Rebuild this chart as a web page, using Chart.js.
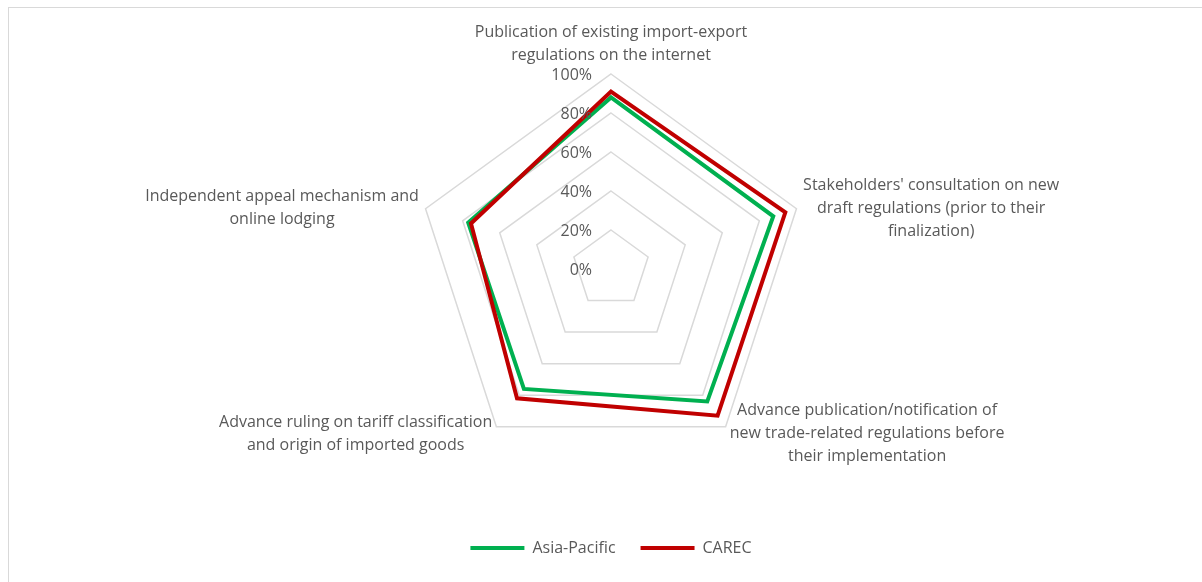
<!DOCTYPE html>
<html>
<head>
<meta charset="utf-8">
<title>Transparency radar</title>
<script src="https://cdn.jsdelivr.net/npm/chart.js@4/dist/chart.umd.min.js"></script>
<style>
    html, body {
        margin: 0;
        padding: 0;
        background: #ffffff;
        overflow: hidden;
    }
    #frame {
        position: absolute;
        left: 8px;
        top: 7px;
        width: 1300px;
        height: 700px;
        border: 1px solid #d9d9d9;
    }
    #chart-container {
        position: absolute;
        left: 0;
        top: 0;
        width: 1202px;
        height: 582px;
    }
</style>
</head>
<body>
<div id="frame"></div>
<div id="chart-container">
    <canvas id="radar-chart" width="1202" height="582"></canvas>
</div>
<script>
const categories = [
    ['Publication of existing import-export', 'regulations on the internet'],
    ["Stakeholders' consultation on new", 'draft regulations (prior to their', 'finalization)'],
    ['Advance publication/notification of', 'new trade-related regulations before', 'their implementation'],
    ['Advance ruling on tariff classification', 'and origin of imported goods'],
    ['Independent appeal mechanism and', 'online lodging']
];
const asiaPacific = [88, 87.5, 84, 76, 77];
const carec = [91, 94, 93, 82, 75.5];
const tickValues = [0, 20, 40, 60, 80, 100];

const TEXT_COLOR = '#595959';
const FONT_FAMILY = '"Open Sans", "Noto Sans", sans-serif';
const FONT_SIZE = 16;
const LINE_HEIGHT = 23;

// подписи осей и процентов рисуем сами, чтобы выровнять как в Excel
const radarText = {
    id: 'radarText',
    afterDraw(chart) {
        const scale = chart.scales.r;
        const ctx = chart.ctx;
        ctx.save();
        ctx.font = FONT_SIZE + 'px ' + FONT_FAMILY;
        ctx.fillStyle = TEXT_COLOR;
        ctx.textBaseline = 'middle';

        // tick labels on the vertical axis
        ctx.textAlign = 'right';
        for (const v of tickValues) {
            const r = scale.getDistanceFromCenterForValue(v);
            ctx.fillText(v + '%', scale.xCenter - 19, scale.yCenter - r + 1);
        }

        // point labels, lines centred inside each block
        ctx.textAlign = 'center';
        chart.data.labels.forEach((lines, i) => {
            const pos = scale.getPointPosition(i, scale.drawingArea + 7);
            const width = Math.max(...lines.map((l) => ctx.measureText(l).width));
            const height = lines.length * LINE_HEIGHT;
            const dx = pos.x - scale.xCenter;
            let cx, top;
            if (Math.abs(dx) < 5) {
                cx = pos.x;
                top = pos.y - height;
            } else if (dx > 0) {
                cx = pos.x + width / 2;
                top = pos.y - height / 2 + 1.5;
            } else {
                cx = pos.x - width / 2;
                top = pos.y - height / 2 + 1.5;
            }
            lines.forEach((line, j) => {
                ctx.fillText(line, cx, top + LINE_HEIGHT * (j + 0.5));
            });
        });
        ctx.restore();
    }
};

const ctx = document.getElementById('radar-chart').getContext('2d');
const chart = new Chart(ctx, {
    type: 'radar',
    data: {
        labels: categories,
        datasets: [{
            label: 'Asia-Pacific',
            data: asiaPacific,
            borderColor: '#00b050',
            backgroundColor: '#00b050',
            borderWidth: 4,
            borderJoinStyle: 'miter',
            pointRadius: 0,
            pointHoverRadius: 0,
            fill: false,
            order: 1
        }, {
            label: 'CAREC',
            data: carec,
            borderColor: '#c00000',
            backgroundColor: '#c00000',
            borderWidth: 4,
            borderJoinStyle: 'miter',
            pointRadius: 0,
            pointHoverRadius: 0,
            fill: false,
            order: 0
        }]
    },
    options: {
        responsive: false,
        animation: false,
        layout: {
            padding: {top: 24, bottom: 16, left: 416, right: 396}
        },
        scales: {
            r: {
                min: 0,
                max: 100,
                ticks: {
                    stepSize: 20,
                    display: false
                },
                grid: {
                    color: '#d9d9d9',
                    lineWidth: 1.5
                },
                angleLines: {
                    display: false
                },
                pointLabels: {
                    display: false
                }
            }
        },
        plugins: {
            tooltip: {enabled: false},
            legend: {
                position: 'bottom',
                labels: {
                    usePointStyle: true,
                    pointStyle: 'line',
                    pointStyleWidth: 54,
                    padding: 25,
                    color: TEXT_COLOR,
                    font: {family: FONT_FAMILY, size: FONT_SIZE},
                    sort: (a, b) => a.datasetIndex - b.datasetIndex
                }
            }
        }
    },
    plugins: [radarText]
});
</script>
</body>
</html>
